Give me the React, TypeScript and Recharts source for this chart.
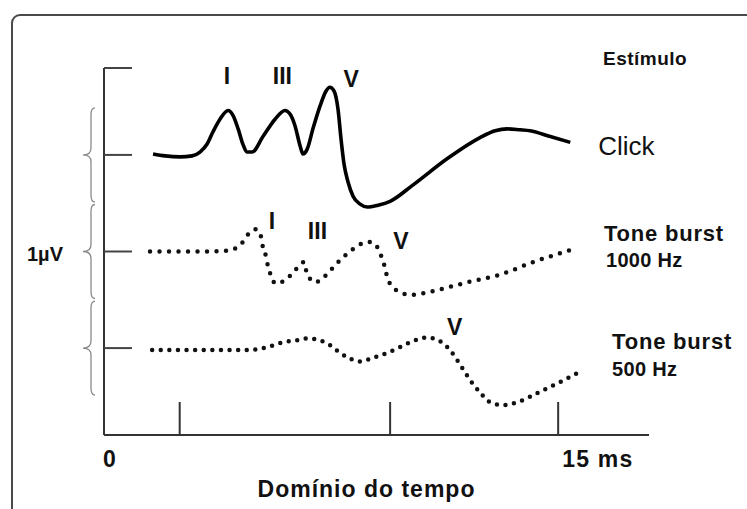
import React from 'react';
import { LineChart, Line, XAxis, YAxis, ReferenceDot } from 'recharts';

// ---- Data (time in ms, amplitude in µV relative to each trace's baseline) ----
const clickTime = [1.62, 2.02, 2.51, 2.91, 3.17, 3.4, 3.6, 3.83, 4.1, 4.26, 4.43, 4.59, 4.72, 4.89, 5.25, 5.65, 5.98, 6.15, 6.31, 6.48, 6.57, 6.71, 6.9, 7.14, 7.33, 7.46, 7.6, 7.73, 7.83, 7.93, 8.06, 8.23, 8.46, 8.69, 9.05, 9.45, 10.21, 11.33, 12.42, 12.92, 13.31, 13.74, 14.07, 14.74, 15.4];
const clickAmp = [0.01, -0.01, -0.02, -0.01, 0.03, 0.11, 0.24, 0.37, 0.46, 0.41, 0.27, 0.11, 0.03, 0.03, 0.19, 0.37, 0.46, 0.42, 0.3, 0.09, 0.01, 0.06, 0.27, 0.51, 0.66, 0.7, 0.66, 0.47, 0.16, -0.1, -0.28, -0.43, -0.51, -0.54, -0.52, -0.48, -0.31, -0.04, 0.18, 0.25, 0.27, 0.26, 0.25, 0.19, 0.13];

const tone1000Time = [1.52, 3.17, 4.1, 4.59, 4.79, 5.02, 5.19, 5.25, 5.35, 5.42, 5.52, 5.65, 5.91, 6.15, 6.38, 6.61, 6.67, 6.74, 6.97, 7.24, 7.7, 8.16, 8.39, 8.69, 8.95, 9.09, 9.22, 9.38, 9.55, 9.85, 10.11, 10.74, 11.37, 11.99, 13.08, 14.17, 15.56];
const tone1000Amp = [0, 0, 0.01, 0.1, 0.19, 0.23, 0.15, 0.04, -0.05, -0.16, -0.25, -0.33, -0.31, -0.25, -0.17, -0.11, -0.19, -0.25, -0.32, -0.27, -0.12, 0.01, 0.06, 0.1, 0.08, 0, -0.1, -0.29, -0.37, -0.43, -0.45, -0.42, -0.37, -0.32, -0.24, -0.11, 0.03];

const tone500Time = [1.59, 3.17, 4.82, 5.39, 5.91, 6.38, 6.74, 7.14, 7.47, 7.8, 8.13, 8.46, 8.89, 9.35, 9.78, 10.11, 10.67, 11.1, 11.43, 11.76, 12.09, 12.42, 12.75, 13.18, 13.74, 14.41, 15.07, 15.63];
const tone500Amp = [-0.02, -0.02, -0.02, 0.01, 0.06, 0.08, 0.1, 0.08, 0.03, -0.05, -0.11, -0.14, -0.1, -0.05, 0.01, 0.06, 0.11, 0.07, -0.02, -0.17, -0.33, -0.46, -0.56, -0.59, -0.55, -0.45, -0.35, -0.26];

const baselineClick = 2.9;
const baseline1000 = 1.9;
const baseline500 = 0.9;

const xTicks = [0, 2.5, 9.45, 15];
const xTickLabels = ['0', '', '', '15 ms'];
const yTicks = [0.9, 1.9, 2.9, 3.8];
const yBraceTicks = [0.9, 1.9, 2.9];

const peakTexts = ['I', 'III', 'V', 'I', 'III', 'V', 'V'];
const peakTime = [4.06, 5.89, 8.16, 5.55, 7.05, 9.81, 11.58];
const peakLevel = [3.72, 3.72, 3.69, 2.22, 2.11, 2.01, 1.12];

const stimTexts = ['Estímulo', 'Click', 'Tone burst', '1000 Hz', 'Tone burst', '500 Hz'];
const stimTime = [16.48, 16.32, 16.51, 16.58, 16.78, 16.78];
const stimLevel = [3.9, 2.99, 2.09, 1.81, 0.97, 0.68];
const stimSize = [19, 26, 22, 20, 22, 20];
const stimWeight = ['bold', 'normal', 'bold', 'bold', 'bold', 'bold'];
const stimSpacing = [0.5, 0, 0.8, 0.3, 0.8, 0.3];

const xLabel = 'Domínio do tempo';
const yLabel = '1µV';

const build = (ts: number[], as: number[], base: number) => ts.map((t, i) => ({ t, v: as[i] + base }));
const clickData = build(clickTime, clickAmp, baselineClick);
const tone1000Data = build(tone1000Time, tone1000Amp, baseline1000);
const tone500Data = build(tone500Time, tone500Amp, baseline500);

const FONT = '"Liberation Sans", Arial, Helvetica, sans-serif';

const XTick = (props: any) => {
  const { x, y, payload } = props;
  const idx = xTicks.indexOf(payload.value);
  const label = idx >= 0 ? xTickLabels[idx] : '';
  const y0 = y - 1;
  return (
    <g>
      {payload.value !== 0 && <line x1={x} y1={y0} x2={x} y2={y0 - 32} stroke="#333" strokeWidth={2} />}
      {label && (
        <text x={payload.value === 0 ? x - 1 : x + 4} y={y0 + 33} textAnchor="start" fontFamily={FONT} fontSize={23} fontWeight="bold" fill="#111" letterSpacing={payload.value === 0 ? 0 : 1.2}>
          {label}
        </text>
      )}
    </g>
  );
};

const YTick = (props: any) => {
  const { x, y, payload } = props;
  const withBrace = yBraceTicks.includes(payload.value);
  const bx = x - 13;
  const h = 47;
  return (
    <g>
      <line x1={x} y1={y} x2={x + 28} y2={y} stroke="#444" strokeWidth={2} />
      {withBrace && (
        <path
          d={`M ${bx + 4} ${y - h} Q ${bx} ${y - h} ${bx} ${y - h + 7} L ${bx} ${y - 7} Q ${bx} ${y} ${bx - 8} ${y} Q ${bx} ${y} ${bx} ${y + 7} L ${bx} ${y + h - 7} Q ${bx} ${y + h} ${bx + 4} ${y + h}`}
          fill="none"
          stroke="#8a8a8a"
          strokeWidth={1.3}
        />
      )}
    </g>
  );
};

export default function App() {
  return (
    <div style={{ position: 'absolute', left: 0, top: 0, width: 747, height: 509, overflow: 'hidden', background: '#fff' }}>
      <div style={{ position: 'absolute', left: 11, top: 14, width: 800, height: 600, border: '2px solid #4a4a4a', borderRadius: 9 }} />
      <div style={{ position: 'absolute', left: 0, top: 0 }}>
        <LineChart width={747} height={509} margin={{ top: 68, right: 98, bottom: 73, left: 103 }}>
          <XAxis
            type="number"
            dataKey="t"
            domain={[0, 18]}
            ticks={xTicks}
            height={1}
            tickSize={0}
            tickMargin={0}
            tickLine={false}
            tick={<XTick />}
            axisLine={{ stroke: '#333', strokeWidth: 2 }}
            allowDataOverflow
            interval={0}
            label={{ value: xLabel, position: 'bottom', offset: 45, dx: -10, style: { fontFamily: FONT, fontSize: 23, fontWeight: 'bold', fill: '#111', letterSpacing: 1 } }}
          />
          <YAxis
            type="number"
            domain={[0, 3.8]}
            ticks={yTicks}
            width={1}
            tickSize={0}
            tickMargin={0}
            tickLine={false}
            tick={<YTick />}
            axisLine={{ stroke: '#333', strokeWidth: 2 }}
            allowDataOverflow
            interval={0}
            label={{ value: yLabel, position: 'left', offset: 40, dy: 2, style: { fontFamily: FONT, fontSize: 20, fontWeight: 'bold', fill: '#111' } }}
          />
          <Line data={clickData} dataKey="v" type="monotone" stroke="#000" strokeWidth={3.6} dot={false} activeDot={false} isAnimationActive={false} />
          <Line data={tone1000Data} dataKey="v" type="monotone" stroke="#111" strokeWidth={4.5} strokeDasharray="0 9.5" strokeLinecap="round" dot={false} activeDot={false} isAnimationActive={false} />
          <Line data={tone500Data} dataKey="v" type="monotone" stroke="#111" strokeWidth={4.5} strokeDasharray="0 8.6" strokeLinecap="round" dot={false} activeDot={false} isAnimationActive={false} />
          {peakTexts.map((txt, i) => (
            <ReferenceDot
              key={'p' + i}
              x={peakTime[i]}
              y={peakLevel[i]}
              r={0}
              fill="none"
              stroke="none"
              ifOverflow="visible"
              label={{ value: txt, position: 'center', style: { fontFamily: FONT, fontSize: 23, fontWeight: 'bold', fill: '#111' } }}
            />
          ))}
          {stimTexts.map((txt, i) => (
            <ReferenceDot
              key={'s' + i}
              x={stimTime[i]}
              y={stimLevel[i]}
              r={0}
              fill="none"
              stroke="none"
              ifOverflow="visible"
              label={{ value: txt, position: 'right', offset: 0, style: { fontFamily: FONT, fontSize: stimSize[i], fontWeight: stimWeight[i], fill: '#111', letterSpacing: stimSpacing[i] } }}
            />
          ))}
        </LineChart>
      </div>
    </div>
  );
}
